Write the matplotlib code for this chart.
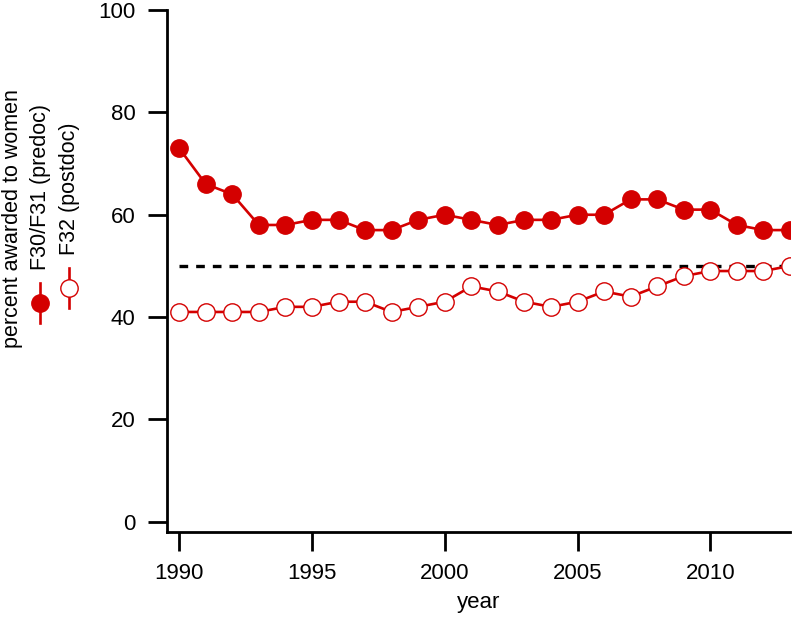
import numpy as np
import matplotlib
matplotlib.use("Agg")
import matplotlib.pyplot as plt
from matplotlib.lines import Line2D

plt.rcParams['font.family'] = ['Liberation Sans', 'DejaVu Sans']

# data
years = list(range(1990, 2014))
predoc = [73, 66, 64, 58, 58, 59, 59, 57, 57, 59, 60, 59, 58, 59, 59, 60, 60, 63, 63, 61, 61, 58, 57, 57]
postdoc = [41, 41, 41, 41, 42, 42, 43, 43, 41, 42, 43, 46, 45, 43, 42, 43, 45, 44, 46, 48, 49, 49, 49, 50]
parity = 50
red = '#d40000'

fig = plt.figure(figsize=(8, 6.3), dpi=100)
ax = fig.add_axes([0.209, 0.1556, 0.7785, 0.8284])

ax.plot([years[0], years[-1]], [parity, parity], color='black', lw=2.4, ls=(0, (2.6, 2.4)), zorder=1)
ax.plot(years, predoc, color=red, lw=1.9, marker='o', ms=12.5,
        mfc=red, mec=red, zorder=3)
ax.plot(years, postdoc, color=red, lw=1.9, marker='o', ms=12.5,
        mfc='white', mec=red, mew=1.0, zorder=2)

ax.set_xlim(1989.55, 2013)
ax.set_ylim(-2, 100)
ax.set_xticks([1990, 1995, 2000, 2005, 2010])
ax.set_yticks([0, 20, 40, 60, 80, 100])
ax.spines['top'].set_visible(False)
ax.spines['right'].set_visible(False)
for s in ['left', 'bottom']:
    ax.spines[s].set_linewidth(2)
ax.tick_params(direction='out', length=14, width=2, labelsize=16)
ax.tick_params(axis='y', pad=9)
ax.tick_params(axis='x', pad=8)
ax.set_xlabel('year', fontsize=16, labelpad=6)

# rotated legend / y label on the left
fs = 15.5
fig.text(13 / 800, 1 - 219 / 630, 'percent awarded to women', rotation=90,
         ha='center', va='center', fontsize=fs)
fig.text(41 / 800, 1 - 270 / 630, 'F30/F31 (predoc)', rotation=90,
         ha='center', va='bottom', fontsize=fs)
fig.text(70 / 800, 1 - 255 / 630, 'F32 (postdoc)', rotation=90,
         ha='center', va='bottom', fontsize=fs)

fig.add_artist(Line2D([40 / 800, 40 / 800], [1 - 283 / 630, 1 - 323 / 630],
                      transform=fig.transFigure, color=red, lw=1.9))
fig.add_artist(Line2D([40 / 800], [1 - 303 / 630], transform=fig.transFigure,
                      marker='o', ms=12.5, mfc=red, mec=red, ls='none'))
fig.add_artist(Line2D([69 / 800, 69 / 800], [1 - 268 / 630, 1 - 308 / 630],
                      transform=fig.transFigure, color=red, lw=1.9))
fig.add_artist(Line2D([69 / 800], [1 - 288 / 630], transform=fig.transFigure,
                      marker='o', ms=12.5, mfc='white', mec=red, mew=1.0, ls='none'))

fig.savefig('out.png', dpi=100)
